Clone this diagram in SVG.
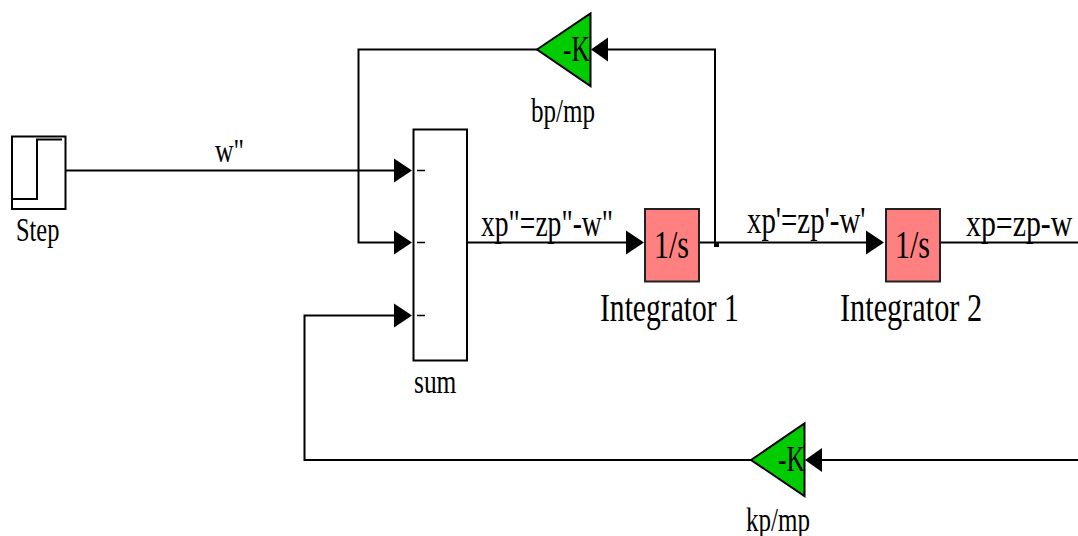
<svg xmlns="http://www.w3.org/2000/svg" width="1078" height="536" viewBox="0 0 1078 536">
<style>
text{font-family:"Liberation Serif","Times New Roman",serif;fill:#000}
.s{font-size:33px}.m{font-size:38px}.l{font-size:40px}.k{font-size:36px}
.b{stroke:#000;stroke-width:2;fill:none}
.box{stroke:#000;stroke-width:2;fill:#fff}
.int{stroke:#222;stroke-width:2;fill:#ff8080}
.gain{stroke:#000;stroke-width:2;fill:#00cc00;stroke-linejoin:miter}
.head{fill:#000}
.port{stroke:#000;stroke-width:1.5;fill:none}
</style>
<rect width="1078" height="536" fill="#fff"/>
<g id="connectors">
<path class="b" d="M65 170.500H396"/>
<path class="b" d="M537 49.500H358.500V242.500H396"/>
<path class="b" d="M467 242.500H629"/>
<path class="b" d="M699 242.500H870"/>
<path class="b" d="M940 242.500H1078"/>
<path class="b" d="M607 49.500H715V242.500"/>
<path class="b" d="M1078 460H820"/>
<path class="b" d="M751 460H304.500V315.500H396"/>
<rect x="714" y="242" width="5" height="5" fill="#000"/>
<polygon class="head" points="412,170.500 394,158.500 394,182.500"/>
<polygon class="head" points="412,242.500 394,230.500 394,254.500"/>
<polygon class="head" points="412,315.500 394,303.500 394,327.500"/>
<polygon class="head" points="644,242.500 626,230.500 626,254.500"/>
<polygon class="head" points="884,242.500 866,230.500 866,254.500"/>
<polygon class="head" points="591,49.500 608,37.500 608,61.500"/>
<polygon class="head" points="805,460 822,448 822,472"/>
</g>
<g id="step">
<rect class="b" x="12" y="136.500" width="53.500" height="72.500"/>
<path class="b" d="M11 199H37V139.500H62"/>
<text class="s" transform="translate(16 241) scale(.74 1)">Step</text>
</g>
<g id="sum">
<rect class="box" x="413.500" y="129.500" width="53.500" height="231"/>
<path class="port" d="M417 170.500h8M417 242.500h8M417 315.500h8"/>
<text class="s" transform="translate(414 393) scale(.77 1)">sum</text>
</g>
<g id="bp-mp">
<polygon class="gain" points="537,49.500 590.500,13.500 590.500,86"/>
<text class="k" transform="translate(563 61) scale(.7 1)">-K</text>
<text class="s" transform="translate(531 122) scale(.76 1)">bp/mp</text>
</g>
<g id="kp-mp">
<polygon class="gain" points="751,460 804.500,423.500 804.500,496"/>
<text class="k" transform="translate(778 471) scale(.7 1)">-K</text>
<text class="s" transform="translate(746 531) scale(.76 1)">kp/mp</text>
</g>
<g id="integrator-1">
<rect class="int" x="645" y="209" width="54" height="72.500"/>
<text class="l" transform="translate(654 258) scale(.75 1)">1/s</text>
<text class="l" transform="translate(600 321) scale(.74 1)">Integrator 1</text>
</g>
<g id="integrator-2">
<rect class="int" x="886" y="209" width="54" height="72.500"/>
<text class="l" transform="translate(895 258) scale(.75 1)">1/s</text>
<text class="l" transform="translate(840 321) scale(.757 1)">Integrator 2</text>
</g>
<g id="labels">
<text class="s" transform="translate(215 162) scale(.78 1)">w"</text>
<text class="m" transform="translate(481 236) scale(.726 1)">xp"=zp"-w"</text>
<text class="m" transform="translate(747 233) scale(.76 1)">xp'=zp'-w'</text>
<text class="m" transform="translate(966 236) scale(.786 1)">xp=zp-w</text>
</g>
</svg>
